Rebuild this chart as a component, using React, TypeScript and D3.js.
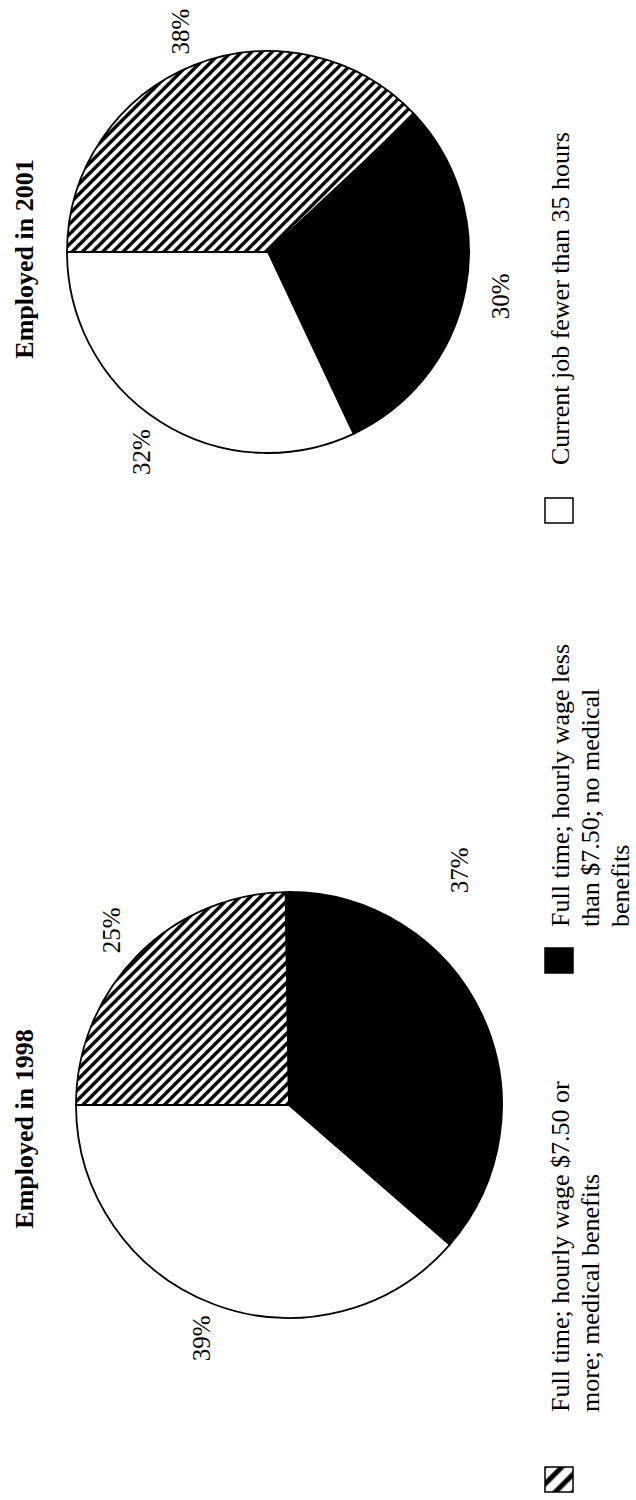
import React from "react";
import * as d3 from "d3";

// ---- data ----
const categories = [
  "Full time; hourly wage $7.50 or more; medical benefits",
  "Full time; hourly wage less than $7.50; no medical benefits",
  "Current job fewer than 35 hours",
];
const legendLines = [
  ["Full time; hourly wage $7.50 or", "more; medical benefits"],
  ["Full time; hourly wage less", "than $7.50; no medical", "benefits"],
  ["Current job fewer than 35 hours"],
];
const titles = ["Employed in 1998", "Employed in 2001"];
const values1998 = [25, 37, 39];
const values2001 = [38, 30, 32];
const seriesValues = [values1998, values2001];

// ---- layout (unrotated frame: width 1500, height 636) ----
const W = 1500;
const pies = [
  { cx: 395, cy: 289, r: 213, titleX: 371 },
  { cx: 1248, cy: 268, r: 201, titleX: 1241 },
];
const labelOffset = 36;
// per-chart label overrides: [angleDeg, distance] or null
const labelOverrides = [
  [null, [126, 290], null],
  [null, null, null],
];
const fills = ["url(#hatch)", "#000", "#fff"];
const legendFills = ["url(#hatchLegend)", "#000", "#fff"];
const legendSquareX = [8, 527, 977];
const legendTextX = [88, 573, 1035];
const FONT = "'Liberation Serif', 'Times New Roman', Times, serif";

export default function App() {
  const pieGen = d3.pie<number>().sort(null).value((d) => d);
  const P = 7.2;
  return (
    <svg
      width={636}
      height={1500}
      style={{ position: "absolute", left: 0, top: 0, background: "#fff" }}
    >
      <defs>
        <pattern
          id="hatch"
          patternUnits="userSpaceOnUse"
          width={P}
          height={P}
          patternTransform="rotate(-45)"
        >
          <rect width={P} height={P} fill="#fff" />
          <line x1={1.8} y1={0} x2={1.8} y2={P} stroke="#000" strokeWidth={3.4} />
        </pattern>
        <pattern
          id="hatchLegend"
          patternUnits="userSpaceOnUse"
          width={13}
          height={13}
          patternTransform="rotate(-45)"
        >
          <rect width={13} height={13} fill="#fff" />
          <line x1={3} y1={0} x2={3} y2={13} stroke="#000" strokeWidth={5} />
        </pattern>
      </defs>
      <rect x={0} y={0} width={636} height={1500} fill="#fff" />
      <g transform={`translate(0,${W}) rotate(-90)`} fontFamily={FONT}>
        {pies.map((p, i) => {
          const arcs = pieGen(seriesValues[i]);
          const arc = d3.arc<d3.PieArcDatum<number>>().innerRadius(0).outerRadius(p.r);
          return (
            <g key={i}>
              <text
                x={p.titleX}
                y={33}
                textAnchor="middle"
                fontWeight="bold"
                fontSize={26}
              >
                {titles[i]}
              </text>
              <g transform={`translate(${p.cx},${p.cy})`}>
                {arcs.map((a, j) => (
                  <path
                    key={j}
                    d={arc(a) || ""}
                    fill={fills[j]}
                    stroke="#000"
                    strokeWidth={1.8}
                    strokeLinejoin="round"
                  />
                ))}
                {arcs.map((a, j) => {
                  const ov = labelOverrides[i][j];
                  const ang = ov ? (ov[0] * Math.PI) / 180 : (a.startAngle + a.endAngle) / 2;
                  const dist = ov ? ov[1] : p.r + labelOffset;
                  return (
                    <text
                      key={"l" + j}
                      x={Math.sin(ang) * dist}
                      y={-Math.cos(ang) * dist}
                      textAnchor="middle"
                      dominantBaseline="central"
                      fontSize={25}
                    >
                      {seriesValues[i][j]}%
                    </text>
                  );
                })}
              </g>
            </g>
          );
        })}
        {categories.map((c, k) => (
          <g key={c}>
            <rect
              x={legendSquareX[k]}
              y={545}
              width={25}
              height={28}
              fill={legendFills[k]}
              stroke="#000"
              strokeWidth={1.5}
            />
            <text x={legendTextX[k]} y={569} fontSize={26}>
              {legendLines[k].map((ln, m) => (
                <tspan key={m} x={legendTextX[k]} y={569 + m * 30}>
                  {ln}
                </tspan>
              ))}
            </text>
          </g>
        ))}
      </g>
    </svg>
  );
}
